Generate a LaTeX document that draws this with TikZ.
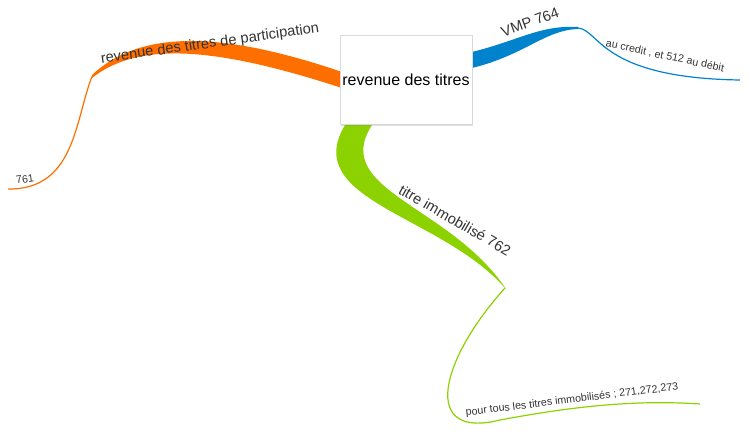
\documentclass[tikz,border=0pt]{standalone}
\usepackage{fontspec}
\setmainfont{Liberation Sans}
\usetikzlibrary{shadows}
\definecolor{orangebr}{RGB}{255,111,0}
\definecolor{bluebr}{RGB}{0,130,205}
\definecolor{greenbr}{RGB}{140,210,0}
\tikzset{every picture/.style={line width=0.75pt}}
\tikzset{
	centerbox/.style={draw=gray!30, fill=white, minimum width=99pt, minimum height=67pt, inner sep=0pt, drop shadow={opacity=0.25, shadow xshift=1pt, shadow yshift=-1pt}, font=\fontsize{12}{14}\selectfont},
	branchlabel/.style={inner sep=0.75pt, font=\fontsize{11}{13}\selectfont, text=black!80},
	leaflabel/.style={inner sep=0.75pt, font=\fontsize{8}{10}\selectfont, text=black!80},
	leafline/.style={line width=0.9pt}}

\begin{document}
\begin{tikzpicture}[x=0.75pt,y=0.75pt,yscale=-1,xscale=1]
\useasboundingbox (0,0) rectangle (750,438);

%Orange branch
\fill [orangebr] (92,75) .. controls (140,30) and (220,30) .. (345,73) -- (345,89) .. controls (220,48) and (140,40) .. (92,78) -- cycle ;
\coordinate (orangeend) at (92,76.5);
\coordinate (orangeleaf) at (8,189);
\draw [orangebr, leafline] (orangeend) .. controls (75,120) and (75,190) .. (orangeleaf) ;

%Blue branch
\fill [bluebr] (472,52) .. controls (520,40) and (540,25) .. (578,27) -- (578,29) .. controls (545,30) and (525,55) .. (472,68) -- cycle ;
\coordinate (blueend) at (578,28);
\coordinate (blueleaf) at (740,80);
\draw [bluebr, leafline] (blueend) .. controls (600,30) and (600,78) .. (blueleaf) ;

%Green branch
\fill [greenbr] (345,125) .. controls (300,200) and (440,215) .. (504,287) -- (506,289) .. controls (450,205) and (330,190) .. (372,125) -- cycle ;
\coordinate (greenend) at (505,288);
\coordinate (greenleaf) at (700,404);
\draw [greenbr, leafline] (greenend) .. controls (440,360) and (420,440) .. (500,420) .. controls (580,405) and (640,400) .. (greenleaf) ;

% Central topic
\node [centerbox] (center) at (406,80) {revenue des titres};

% Text Node
\node [branchlabel, rotate=8] (orangetxt) at (210,44) {revenue des titres de participation};
% Text Node
\node [branchlabel, rotate=20] (bluetxt) at (530,22) {VMP 764};
% Text Node
\node [branchlabel, rotate=-30] (greentxt) at (455,220) {titre immobilisé 762};
% Text Node
\node [leaflabel, rotate=8] (orangeleaftxt) at (25,179) {761};
% Text Node
\node [leaflabel, rotate=-12] (blueleaftxt) at (665,56) {au credit , et 512 au débit};
% Text Node
\node [leaflabel, rotate=7] (greenleaftxt) at (572,400) {pour tous les titres immobilisés ; 271,272,273};

\end{tikzpicture}
\end{document}
